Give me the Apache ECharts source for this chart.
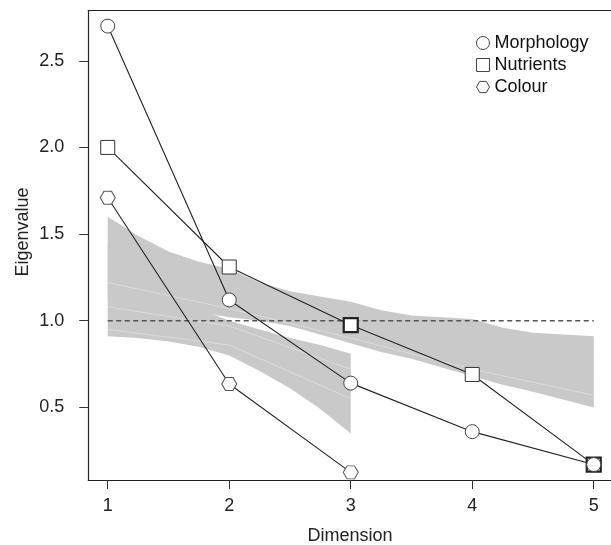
<!DOCTYPE html>
<html>
<head>
<meta charset="utf-8">
<script src="https://cdn.jsdelivr.net/npm/echarts@6/dist/echarts.min.js"></script>
<style>
html,body{margin:0;padding:0;background:#fff;}
#chart{width:611px;height:545px;}
</style>
</head>
<body>
<div id="chart"></div>
<script>
// ---- data ----
const dims = [1, 2, 3, 4, 5];
const morphology = [2.70, 1.12, 0.64, 0.36, 0.17];
const nutrients = [2.00, 1.31, 0.975, 0.69, 0.17];
const colour = [1.71, 0.635, 0.125];
const xTicks = [1, 2, 3, 4, 5];
const yTicks = [0.5, 1.0, 1.5, 2.0, 2.5];
const refLineX = [1, 5];
const refLineY = [1, 1];

// envelope of the simulated eigenvalue lines (5-dimension set)
const band5X     = [1, 1.25, 1.5, 1.75, 2, 2.25, 2.5, 3, 3.25, 3.5, 4, 4.25, 4.5, 5];
const band5Upper = [1.60, 1.49, 1.40, 1.34, 1.30, 1.22, 1.17, 1.11, 1.06, 1.03, 1.01, 0.96, 0.93, 0.91];
const band5Lower = [1.12, 1.10, 1.08, 1.05, 1.02, 1.00, 0.97, 0.87, 0.82, 0.78, 0.68, 0.63, 0.59, 0.50];
// envelope of the simulated eigenvalue lines (3-dimension set)
const band3X     = [1, 1.25, 1.5, 1.75, 2, 2.25, 2.5, 2.75, 3];
const band3Upper = [1.45, 1.30, 1.17, 1.07, 1.00, 0.95, 0.90, 0.86, 0.81];
const band3Lower = [0.91, 0.90, 0.88, 0.85, 0.80, 0.71, 0.61, 0.49, 0.35];
// a few lighter individual simulated lines visible inside the bands
const streak5 = [1.22, 1.07, 0.90, 0.72, 0.57];
const streak3a = [0.95, 0.86, 0.55];
const streak3b = [1.08, 0.97, 0.72];

const FONT = '"Liberation Sans", Arial, Helvetica, sans-serif';
const hexPath = 'path://M0,5.2 L3,0 L9,0 L12,5.2 L9,10.4 L3,10.4 Z';
const BAND = '#c9c9c9';

function pairs(xs, ys) { return ys.map((y, i) => [xs[i], y]); }

function bandSeries(xs, up, lo) {
  return {
    type: 'custom',
    silent: true,
    z: 1,
    data: [[xs[0], up[0]]],
    renderItem: function (params, api) {
      const top = xs.map((x, i) => api.coord([x, up[i]]));
      const bot = xs.map((x, i) => api.coord([x, lo[i]])).reverse();
      return {
        type: 'polygon',
        shape: { points: top.concat(bot) },
        style: { fill: BAND }
      };
    }
  };
}
function streakSeries(ys) {
  return {
    type: 'line', silent: true, z: 2, symbol: 'none',
    data: pairs(dims, ys),
    lineStyle: { color: '#dcdcdc', width: 0.9 }
  };
}

const chart = echarts.init(document.getElementById('chart'), null, { renderer: 'canvas' });
chart.setOption({
  animation: false,
  backgroundColor: '#ffffff',
  grid: { left: 88.3, right: 0, top: 10.5, bottom: 65, show: false, containLabel: false, outerBoundsMode: 'none' },
  xAxis: [{
    type: 'value', min: 0.84, max: 5.142,
    axisLine: { show: true, onZero: false, lineStyle: { color: '#222', width: 1.2 } },
    splitLine: { show: false },
    axisTick: { show: true, length: 9, lineStyle: { color: '#333', width: 1 }, customValues: xTicks },
    axisLabel: { fontFamily: FONT, fontSize: 18, color: '#222', margin: 17, customValues: xTicks }
  }, {
    type: 'value', position: 'top', min: 0.84, max: 5.142,
    axisLine: { show: true, onZero: false, lineStyle: { color: '#222', width: 1.2 } },
    axisTick: { show: false }, axisLabel: { show: false }, splitLine: { show: false }
  }],
  yAxis: {
    type: 'value', min: 0.081, max: 2.79,
    axisLine: { show: true, onZero: false, lineStyle: { color: '#222', width: 1.2 } },
    splitLine: { show: false },
    axisTick: { show: true, length: 9, lineStyle: { color: '#333', width: 1 }, customValues: yTicks },
    axisLabel: { fontFamily: FONT, fontSize: 18, color: '#222', margin: 24, customValues: yTicks,
      formatter: v => v.toFixed(1) }
  },
  graphic: [{
    type: 'text', x: 23, y: 232, rotation: Math.PI / 2, silent: true,
    style: { text: 'Eigenvalue', fontFamily: FONT, fontSize: 18, fill: '#222', align: 'center', verticalAlign: 'middle' }
  }, {
    type: 'text', x: 350, y: 536, silent: true,
    style: { text: 'Dimension', fontFamily: FONT, fontSize: 18, fill: '#222', align: 'center', verticalAlign: 'middle' }
  }],
  legend: {
    orient: 'vertical', left: 476, top: 34, padding: 0, itemGap: 4,
    itemWidth: 13, itemHeight: 13,
    textStyle: { fontFamily: FONT, fontSize: 18, color: '#111' },
    itemStyle: { color: '#fff', borderColor: '#444', borderWidth: 1 },
    data: [
      { name: 'Morphology', icon: 'circle' },
      { name: 'Nutrients', icon: 'rect' },
      { name: 'Colour', icon: hexPath }
    ]
  },
  series: [
    bandSeries(band5X, band5Upper, band5Lower),
    bandSeries(band3X, band3Upper, band3Lower),
    streakSeries(streak5),
    streakSeries(streak3a),
    streakSeries(streak3b),
    {
      type: 'line', silent: true, z: 3, symbol: 'none',
      data: pairs(refLineX, refLineY),
      lineStyle: { color: '#555', width: 1.6, type: [5, 3.5] }
    },
    {
      name: 'Nutrients', type: 'line', z: 4,
      data: pairs(dims, nutrients).map((p, i) => ({ value: p, itemStyle: (i === 2 || i === 4) ? { borderWidth: 2.2, borderColor: '#222' } : undefined })),
      symbol: 'rect', symbolSize: 14,
      lineStyle: { color: '#222', width: 1.1 },
      itemStyle: { color: '#fff', borderColor: '#333', borderWidth: 1 }
    },
    {
      name: 'Morphology', type: 'line', z: 5,
      data: pairs(dims, morphology),
      symbol: 'circle', symbolSize: 14,
      lineStyle: { color: '#222', width: 1.1 },
      itemStyle: { color: '#fff', borderColor: '#444', borderWidth: 1 }
    },
    {
      name: 'Colour', type: 'line', z: 6,
      data: pairs(dims, colour),
      symbol: hexPath, symbolSize: [15, 13],
      lineStyle: { color: '#222', width: 1.1 },
      itemStyle: { color: '#fff', borderColor: '#555', borderWidth: 1 }
    }
  ]
});
</script>
</body>
</html>
